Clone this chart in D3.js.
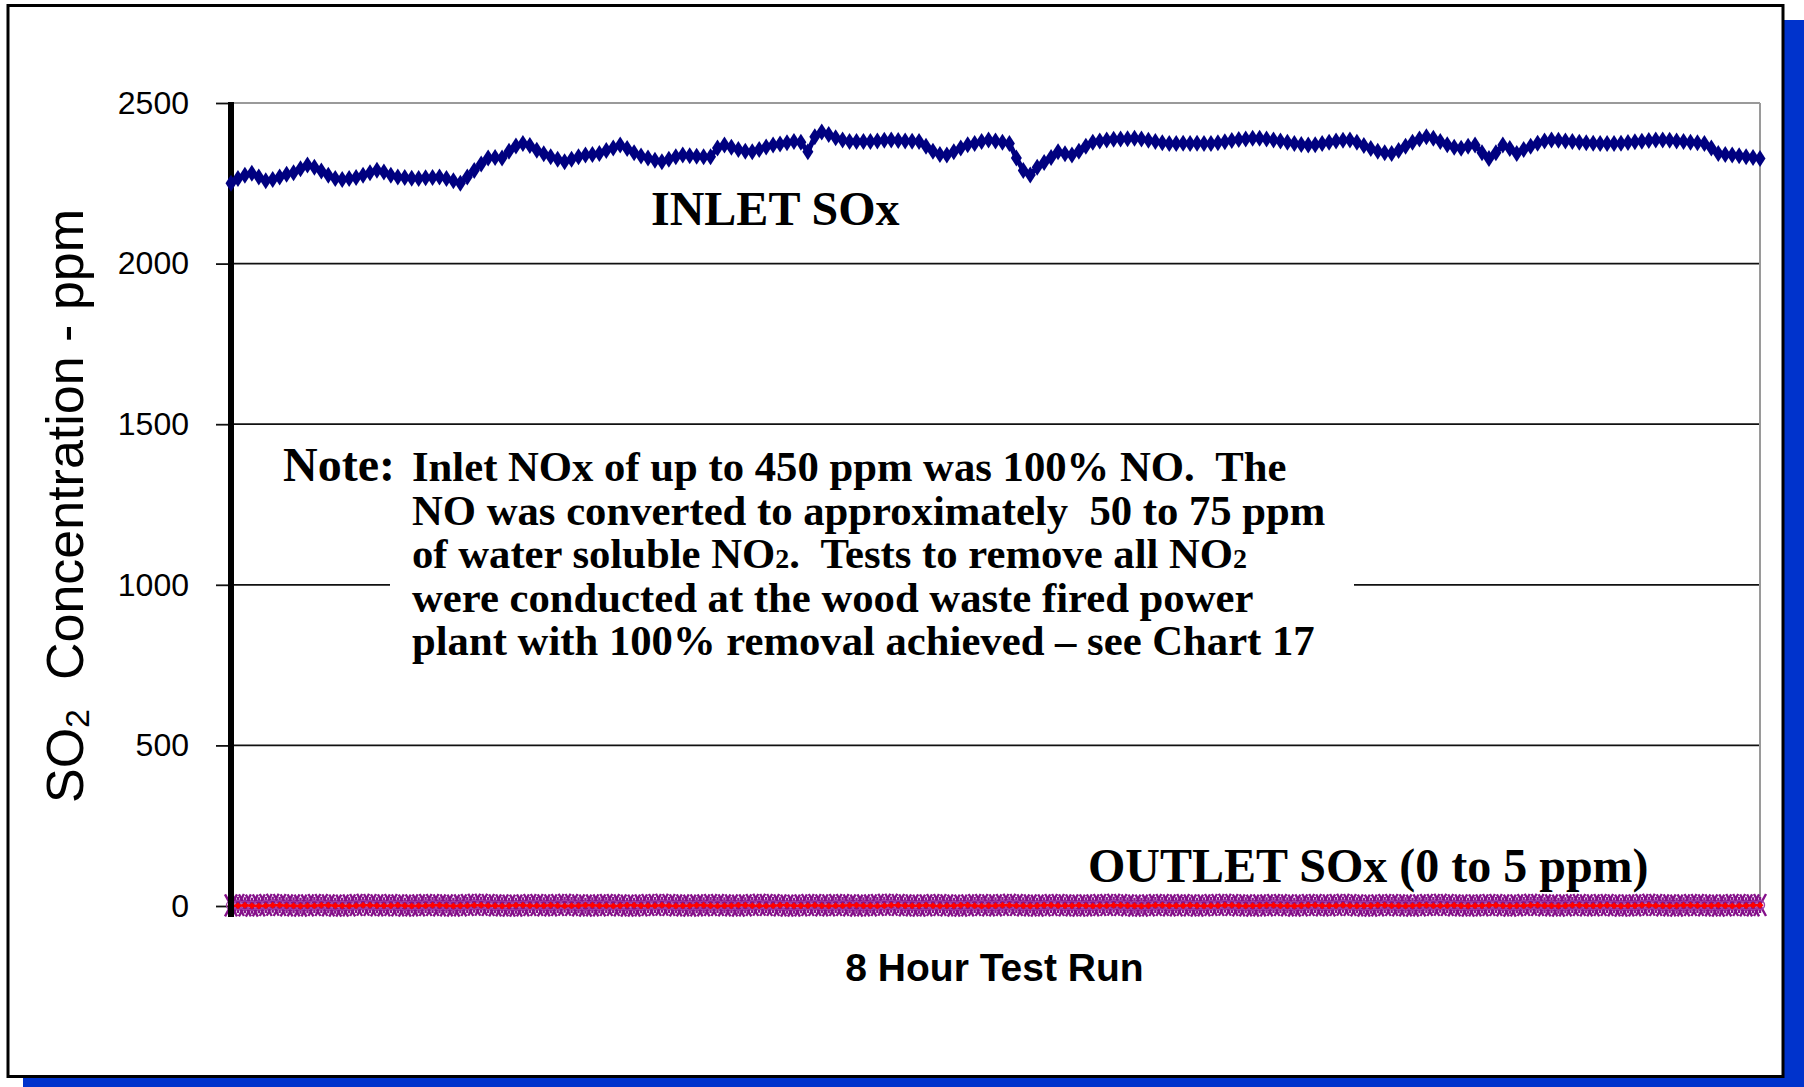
<!DOCTYPE html>
<html><head><meta charset="utf-8">
<script src="https://cdn.jsdelivr.net/npm/d3@7"></script>
<style>body{margin:0;background:#fff}text{white-space:pre}</style>
</head><body><svg id="c" width="1804" height="1087"></svg>
<script>
const yTicks = [0, 500, 1000, 1500, 2000, 2500];
const yTitle = ["SO", "2", "  Concentration - ppm"];
const xTitle = "8 Hour Test Run";
const inletLabel = "INLET SOx";
const outletLabel = "OUTLET SOx (0 to 5 ppm)";
const noteHead = "Note:";
const noteLines = [
  [["Inlet NOx of up to 450 ppm was 100% NO.  The", 0]],
  [["NO was converted to approximately  50 to 75 ppm", 0]],
  [["of water soluble NO", 0], ["2", 1], [".  Tests to remove all NO", 0], ["2", 1]],
  [["were conducted at the wood waste fired power", 0]],
  [["plant with 100% removal achieved \u2013 see Chart 17", 0]]
];

// Inlet SOx (ppm), one reading per interval over the 8 hour run
const inletSOx = [
2250,2265,2275,2281,2270,2258,2262,2270,2278,2283,
2295,2307,2300,2288,2275,2265,2262,2265,2268,2275,
2283,2291,2285,2275,2270,2268,2266,2265,2267,2268,
2270,2265,2258,2250,2270,2290,2310,2329,2330,2329,
2350,2366,2374,2368,2353,2342,2333,2325,2317,2325,
2333,2338,2340,2343,2352,2360,2369,2358,2345,2335,
2329,2322,2317,2325,2333,2338,2336,2334,2333,2333,
2360,2369,2362,2355,2350,2348,2355,2363,2369,2372,
2376,2380,2378,2348,2395,2410,2402,2392,2385,2380,
2380,2380,2380,2382,2384,2385,2383,2382,2381,2380,
2365,2350,2340,2338,2348,2360,2370,2374,2380,2385,
2382,2378,2374,2329,2290,2276,2300,2315,2330,2348,
2342,2338,2350,2365,2378,2382,2385,2387,2388,2389,
2390,2388,2384,2380,2376,2374,2374,2375,2374,2375,
2374,2374,2376,2379,2383,2386,2388,2390,2390,2388,
2385,2382,2378,2374,2371,2369,2370,2374,2378,2382,
2384,2385,2378,2368,2358,2350,2345,2343,2352,2365,
2378,2388,2395,2390,2380,2370,2362,2359,2365,2369,
2345,2327,2345,2369,2358,2343,2355,2365,2375,2382,
2385,2384,2382,2380,2378,2376,2375,2374,2374,2374,
2375,2377,2379,2381,2383,2385,2385,2384,2382,2380,
2378,2376,2374,2360,2343,2340,2338,2336,2333,2330,
2327];

// Outlet SOx (ppm), 0 to 5 ppm
const outletSOxA = [
2,3,2,1,2,3,4,3,2,2,1,2,3,3,2,1,1,2,3,4,3,2,2,3,2,1,2,2,3,3,2,2,1,2,3,4,4,3,2,2,
1,1,2,3,3,2,2,3,4,3,2,1,2,2,3,3,2,1,1,2,3,3,4,3,2,2,1,2,2,3,3,2,2,1,2,3,4,3,3,2,
1,1,2,3,3,2,2,3,3,2,1,2,2,3,4,4,3,2,2,1,2,3,3,2,1,1,2,3,3,2,2,3,4,3,2,2,1,2,3,3,
2,2,1,2,2,3,3,4,3,2,1,1,2,3,3,2,2,3,2,1,2,3,3,4,3,2,2,1,2,2,3,3,2,1,2,3,3,2,2,3,
4,3,2,1,1,2,3,3,2,2,1,2,3,3,4,3,2,2,1,2,2,3,3,2,1,2,3,4,3,2,2,1,2,3,3,2,2,3,3,2,
1,2,2,3,4,3,2,2,1,2,3,3,2,2,1,2,3,3,2,2,3];
const outletSOxB = [
1,1,2,1,0,1,2,2,1,1,0,1,1,2,2,1,1,0,1,2,2,1,1,1,2,1,0,1,1,2,2,1,0,1,1,2,2,1,1,0,
1,2,2,1,1,1,2,1,0,1,1,2,2,1,1,0,1,2,2,1,1,1,2,1,0,1,1,2,2,1,0,1,1,2,2,1,1,0,1,2,
2,1,1,1,2,1,0,1,1,2,2,1,1,0,1,2,2,1,1,1,2,1,0,1,1,2,2,1,0,1,1,2,2,1,1,0,1,2,2,1,
1,1,2,1,0,1,1,2,2,1,1,0,1,2,2,1,1,1,2,1,0,1,1,2,2,1,0,1,1,2,2,1,1,0,1,2,2,1,1,1,
2,1,0,1,1,2,2,1,1,0,1,2,2,1,1,1,2,1,0,1,1,2,2,1,0,1,1,2,2,1,1,0,1,2,2,1,1,1,2,1,
0,1,1,2,2,1,1,0,1,2,2,1,1,1,2,1,0,1,1,2,2];

const svg = d3.select('#c');
const sans = "'Liberation Sans', Arial, sans-serif";
const serif = "'Liberation Serif', 'Times New Roman', serif";

// shadow and frame
svg.append('rect').attr('x', 23).attr('y', 20).attr('width', 1781).attr('height', 1070).attr('fill', '#0033CC');
svg.append('rect').attr('x', 8).attr('y', 5.5).attr('width', 1775).attr('height', 1071)
  .attr('fill', '#fff').attr('stroke', '#000').attr('stroke-width', 3);

const m = {l: 231, r: 1760, t: 103, b: 906};
const y = d3.scaleLinear().domain([0, 2500]).range([m.b, m.t]);
const xOf = arr => d3.scaleLinear().domain([0, arr.length - 1]).range([m.l, m.r]);

// gridlines
svg.append('g').selectAll('line').data(yTicks.filter(v => v > 0)).join('line')
  .attr('x1', m.l).attr('x2', m.r).attr('y1', d => y(d)).attr('y2', d => y(d))
  .attr('stroke', d => d === 2500 ? '#9a9a9a' : '#111').attr('stroke-width', d => d === 2500 ? 2 : 1.8);
svg.append('line').attr('x1', m.r).attr('x2', m.r).attr('y1', m.t).attr('y2', m.b + 4)
  .attr('stroke', '#9a9a9a').attr('stroke-width', 2);

// note box (white background over gridline)
svg.append('rect').attr('x', 390).attr('y', 440).attr('width', 964).attr('height', 235).attr('fill', '#fff');

// y axis
const ax = svg.append('g').attr('transform', `translate(${m.l},0)`)
  .call(d3.axisLeft(y).tickValues(yTicks).tickSize(15).tickPadding(27).tickFormat(d3.format('d')));
ax.select('.domain').remove();
ax.selectAll('.tick line').attr('stroke', '#111').attr('stroke-width', 1.8);
ax.selectAll('.tick text').attr('font-family', sans).attr('font-size', 32).attr('fill', '#000');

// outlet series
const xa = xOf(outletSOxA);
svg.append('g').selectAll('path').data(outletSOxA).join('path')
  .attr('transform', (d, i) => `translate(${xa(i)},${y(d)})`)
  .attr('d', 'M-6,-11L6,11M-6,11L6,-11M0,-8L0,8')
  .attr('stroke', '#85108A').attr('stroke-width', 2.4).attr('fill', 'none');
svg.append('g').selectAll('circle').data(outletSOxA).join('circle')
  .attr('cx', (d, i) => xa(i)).attr('cy', d => y(d)).attr('r', 4.5)
  .attr('stroke', '#A040A8').attr('stroke-width', 1.4).attr('fill', 'none');
const xb = xOf(outletSOxB);
svg.append('path').datum(outletSOxB)
  .attr('d', d3.line().x((d, i) => xb(i)).y(d => y(d)))
  .attr('stroke', '#ff0000').attr('stroke-width', 2.5).attr('fill', 'none');
svg.append('g').selectAll('path').data(outletSOxB).join('path')
  .attr('transform', (d, i) => `translate(${xb(i)},${y(d)})`)
  .attr('d', 'M0,-3.5L3.5,0L0,3.5L-3.5,0Z').attr('fill', '#ff0000');

// thick y axis line
svg.append('line').attr('x1', m.l).attr('x2', m.l).attr('y1', m.t - 1).attr('y2', m.b + 11)
  .attr('stroke', '#000').attr('stroke-width', 6);

// inlet series
const xi = xOf(inletSOx);
svg.append('path').datum(inletSOx)
  .attr('d', d3.line().x((d, i) => xi(i)).y(d => y(d)))
  .attr('stroke', '#000080').attr('stroke-width', 5).attr('fill', 'none');
svg.append('g').selectAll('path').data(inletSOx).join('path')
  .attr('transform', (d, i) => `translate(${xi(i)},${y(d)})`)
  .attr('d', 'M0,-8.5L5.5,0L0,8.5L-5.5,0Z').attr('fill', '#000080');

// labels
svg.append('text').attr('x', 651).attr('y', 225).attr('font-family', serif).attr('font-weight', 'bold')
  .attr('font-size', 48).text(inletLabel);
svg.append('text').attr('x', 1088).attr('y', 882).attr('font-family', serif).attr('font-weight', 'bold')
  .attr('font-size', 48).text(outletLabel);
svg.append('text').attr('x', (m.l + m.r) / 2 - 1).attr('y', 981).attr('text-anchor', 'middle')
  .attr('font-family', sans).attr('font-weight', 'bold').attr('font-size', 39).text(xTitle);

const yt = svg.append('text').attr('transform', 'translate(83,506) rotate(-90)').attr('text-anchor', 'middle')
  .attr('font-family', sans).attr('font-size', 52);
yt.append('tspan').text(yTitle[0]);
yt.append('tspan').attr('font-size', 34).attr('dy', 6).text(yTitle[1]);
yt.append('tspan').attr('dy', -6).text(yTitle[2]);

// note
svg.append('text').attr('x', 283).attr('y', 481).attr('font-family', serif).attr('font-weight', 'bold')
  .attr('font-size', 48).text(noteHead);
noteLines.forEach((segs, k) => {
  const t = svg.append('text').attr('x', 412).attr('y', 481 + k * 43.6)
    .attr('font-family', serif).attr('font-weight', 'bold').attr('font-size', 42.7);
  segs.forEach(([s, sub]) => {
    const ts = t.append('tspan').text(s);
    if (sub) ts.attr('font-size', 28);
  });
});
</script></body></html>
